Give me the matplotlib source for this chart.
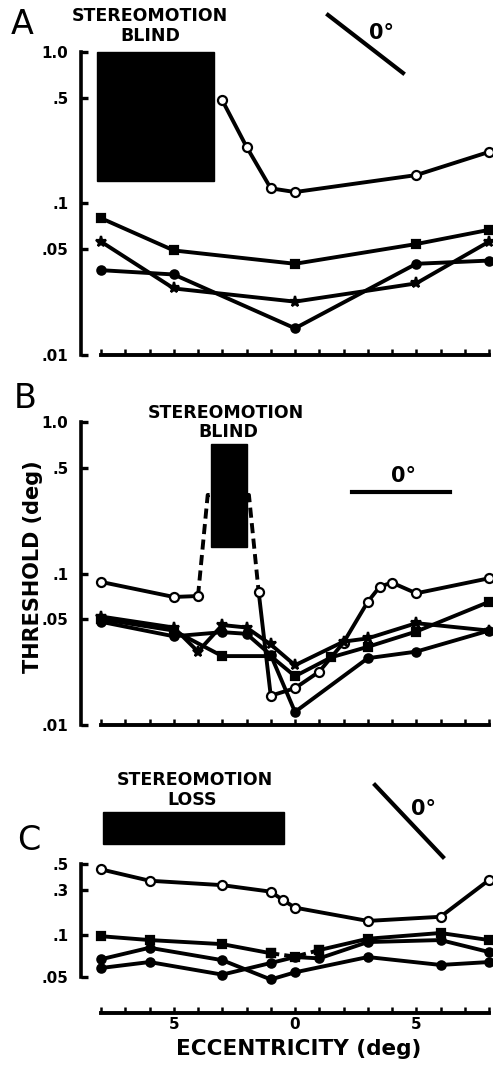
import numpy as np
import matplotlib
matplotlib.use("Agg")
import matplotlib.pyplot as plt
from matplotlib.patches import Rectangle
from matplotlib.lines import Line2D

# ---------------- data ----------------
# Panel A
a_open_x = [-3, -2, -1, 0, 5, 8]
a_open_y = [0.48, 0.237, 0.126, 0.119, 0.154, 0.219]
a_sq_x = [-8, -5, 0, 5, 8]
a_sq_y = [0.080, 0.049, 0.040, 0.054, 0.067]
a_dot_x = [-8, -5, 0, 5, 8]
a_dot_y = [0.0363, 0.034, 0.015, 0.040, 0.042]
a_star_x = [-8, -5, 0, 5, 8]
a_star_y = [0.056, 0.0275, 0.0225, 0.0297, 0.056]
a_blind = (-8.15, -3.35, 0.14, 1.0)

# Panel B
b_open_x = [-8, -5, -4, -1.5, -1, 0, 1, 2, 3, 3.5, 4, 5, 8]
b_open_y = [0.088, 0.070, 0.071, 0.076, 0.0156, 0.0175, 0.0225, 0.035, 0.065, 0.082, 0.087, 0.074, 0.093]
b_dash_x = [-4, -3.6, -1.9, -1.5]
b_dash_y = [0.071, 0.33, 0.33, 0.076]
b_sq_x = [-8, -5, -3, -1, 0, 1.5, 3, 5, 8]
b_sq_y = [0.050, 0.042, 0.0285, 0.0285, 0.021, 0.028, 0.0328, 0.0414, 0.065]
b_star_x = [-8, -5, -4, -3, -2, -1, 0, 2, 3, 5, 8]
b_star_y = [0.052, 0.044, 0.0305, 0.0457, 0.044, 0.034, 0.0248, 0.0355, 0.0373, 0.047, 0.042]
b_dot_x = [-8, -5, -3, -2, -1, 0, 3, 5, 8]
b_dot_y = [0.048, 0.0385, 0.041, 0.040, 0.029, 0.0122, 0.0276, 0.0305, 0.042]
b_blind = (-3.48, -2.0, 0.15, 0.716)

# Panel C
c_open_x = [-8, -6, -3, -1, -0.5, 0, 3, 6, 8]
c_open_y = [0.45, 0.36, 0.33, 0.288, 0.235, 0.195, 0.141, 0.156, 0.365]
c_sq_x = [-8, -6, -3, -1, 0, 1, 3, 6, 8]
c_sq_y = [0.098, 0.092, 0.086, 0.074, 0.070, 0.078, 0.094, 0.105, 0.092]
c_d1_x = [-8, -6, -3, -1, 0, 3, 6, 8]
c_d1_y = [0.067, 0.081, 0.066, 0.048, 0.054, 0.0695, 0.061, 0.064]
c_d2_x = [-8, -6, -3, -1, 0, 1, 3, 6, 8]
c_d2_y = [0.058, 0.064, 0.052, 0.063, 0.0695, 0.068, 0.089, 0.092, 0.0755]
c_loss = (-7.9, -0.47, 0.741, 1.39)

yticks_ab = [0.01, 0.05, 0.1, 0.5, 1.0]
yticklabels_ab = [".01", ".05", ".1", ".5", "1.0"]
yticks_c = [0.05, 0.1, 0.3, 0.5]
yticklabels_c = [".05", ".1", ".3", ".5"]
xtick_lab_pos = [-5, 0, 5]
xtick_lab_txt = ["5", "0", "5"]

# axis of panel C: piecewise log mapping (tick anchors of the original axis)
C_LOG = np.log10([0.05, 0.1, 0.3, 0.5])
C_POS = np.array([0.0, 42.0, 87.0, 113.0])

# ---------------- figure ----------------
W, H = 493, 1065
fig = plt.figure(figsize=(W / 100, H / 100), dpi=100)
plt.rcParams['font.family'] = ['DejaVu Sans']

LW = 2.8
K = 'black'


def fx(px):
    return px / W


def fy(py):
    return 1 - py / H


def c_forward(v):
    v = np.asarray(v, dtype=float)
    l = np.log10(np.clip(v, 1e-9, None))
    p = np.interp(l, C_LOG, C_POS)
    s0 = (C_POS[1] - C_POS[0]) / (C_LOG[1] - C_LOG[0])
    s1 = (C_POS[-1] - C_POS[-2]) / (C_LOG[-1] - C_LOG[-2])
    p = np.where(l < C_LOG[0], C_POS[0] + (l - C_LOG[0]) * s0, p)
    p = np.where(l > C_LOG[-1], C_POS[-1] + (l - C_LOG[-1]) * s1, p)
    return p


def c_inverse(p):
    p = np.asarray(p, dtype=float)
    l = np.interp(p, C_POS, C_LOG)
    s0 = (C_LOG[1] - C_LOG[0]) / (C_POS[1] - C_POS[0])
    s1 = (C_LOG[-1] - C_LOG[-2]) / (C_POS[-1] - C_POS[-2])
    l = np.where(p < C_POS[0], C_LOG[0] + (p - C_POS[0]) * s0, l)
    l = np.where(p > C_POS[-1], C_LOG[-1] + (p - C_POS[-1]) * s1, l)
    return 10 ** l


AX_LEFT = 81
X_M8, X_P8 = 101, 489
ppd = (X_P8 - X_M8) / 16.0
XL = (-8 - (X_M8 - AX_LEFT) / ppd, 8 + (W - X_P8) / ppd)


def make_axes(top, bottom):
    return fig.add_axes([fx(AX_LEFT), fy(bottom), fx(W - AX_LEFT), (bottom - top) / H])


def style(ax, ylo, yhi):
    ax.set_xlim(*XL)
    for s in ['top', 'right']:
        ax.spines[s].set_visible(False)
    ax.spines['left'].set_linewidth(2.6)
    ax.spines['bottom'].set_linewidth(2.8)
    ax.spines['left'].set_bounds(ylo, yhi)
    ax.spines['bottom'].set_bounds(-8, 8)
    ax.set_xticks(np.arange(-8, 9, 1))
    ax.tick_params(axis='x', direction='in', length=4, width=1.8, labelbottom=False)
    ax.tick_params(axis='y', direction='in', length=5, width=2.4, pad=9,
                   labelsize=11)
    ax.minorticks_off()
    for t in ax.get_yticklabels():
        t.set_fontweight('bold')
    ax.patch.set_alpha(0)


def series(ax, x, y, marker, ms, filled=True, ls='-'):
    ax.plot(x, y, ls=ls, color=K, lw=LW, marker=marker, ms=ms,
            mfc=K if filled else 'white', mec=K, mew=1.6, clip_on=False, zorder=3)


# ---------- Panel A ----------
axA = make_axes(52, 355)
axA.set_yscale('log')
axA.set_ylim(0.01, 1.0)
axA.set_yticks(yticks_ab)
axA.set_yticklabels(yticklabels_ab)
style(axA, 0.01, 1.0)
axA.add_patch(Rectangle((a_blind[0], a_blind[2]), a_blind[1] - a_blind[0],
                        a_blind[3] - a_blind[2], color=K, zorder=4, clip_on=False))
series(axA, a_open_x, a_open_y, 'o', 6.5, filled=False)
series(axA, a_sq_x, a_sq_y, 's', 6)
series(axA, a_dot_x, a_dot_y, 'o', 6)
series(axA, a_star_x, a_star_y, '*', 8)

# ---------- Panel B ----------
axB = make_axes(422, 725)
axB.set_yscale('log')
axB.set_ylim(0.01, 1.0)
axB.set_yticks(yticks_ab)
axB.set_yticklabels(yticklabels_ab)
style(axB, 0.01, 1.0)
axB.plot(b_dash_x, b_dash_y, ls=(0, (2.6, 1.4)), color=K, lw=LW, zorder=2, clip_on=False)
axB.add_patch(Rectangle((b_blind[0], b_blind[2]), b_blind[1] - b_blind[0],
                        b_blind[3] - b_blind[2], color=K, zorder=4, clip_on=False))
series(axB, b_open_x[:3], b_open_y[:3], 'o', 6.5, filled=False)
series(axB, b_open_x[3:], b_open_y[3:], 'o', 6.5, filled=False)
series(axB, b_sq_x, b_sq_y, 's', 6)
series(axB, b_star_x, b_star_y, '*', 8)
series(axB, b_dot_x, b_dot_y, 'o', 6)

# ---------- Panel C ----------
axC = make_axes(860, 1013)
axC.set_yscale('function', functions=(c_forward, c_inverse))
axC.set_ylim(float(c_inverse(-36.0)), float(c_inverse(117.0)))
axC.set_yticks(yticks_c)
axC.set_yticklabels(yticklabels_c)
style(axC, 0.05, 0.5)
axC.tick_params(axis='x', labelbottom=True, labelsize=11, pad=3)
axC.set_xticks(np.arange(-8, 9, 1))
axC.set_xticklabels([xtick_lab_txt[xtick_lab_pos.index(v)] if v in xtick_lab_pos else ''
                     for v in range(-8, 9)])
for t in axC.get_xticklabels() + axC.get_yticklabels():
    t.set_fontweight('bold')
axC.add_patch(Rectangle((c_loss[0], c_loss[2]), c_loss[1] - c_loss[0],
                        c_loss[3] - c_loss[2], color=K, zorder=4, clip_on=False))
series(axC, c_open_x, c_open_y, 'o', 6.5, filled=False)
series(axC, c_sq_x[:4], c_sq_y[:4], 's', 6)
series(axC, c_sq_x[3:6], c_sq_y[3:6], 's', 6, ls=(0, (2.2, 1.3)))
series(axC, c_sq_x[5:], c_sq_y[5:], 's', 6)
series(axC, c_d1_x, c_d1_y, 'o', 6)
series(axC, c_d2_x, c_d2_y, 'o', 6)

# ---------- annotations ----------
tkw = dict(fontweight='bold', ha='center', va='center', color=K)
fig.text(fx(22), fy(25), 'A', fontsize=24, ha='center', va='center')
fig.text(fx(25), fy(398), 'B', fontsize=24, ha='center', va='center')
fig.text(fx(29), fy(841), 'C', fontsize=24, ha='center', va='center')

fig.text(fx(150), fy(16), 'STEREOMOTION', fontsize=12.5, **tkw)
fig.text(fx(150), fy(36), 'BLIND', fontsize=12.5, **tkw)
fig.text(fx(226), fy(413), 'STEREOMOTION', fontsize=12.5, **tkw)
fig.text(fx(228), fy(432), 'BLIND', fontsize=12.5, **tkw)
fig.text(fx(195), fy(780), 'STEREOMOTION', fontsize=12.5, **tkw)
fig.text(fx(192), fy(800), 'LOSS', fontsize=12.5, **tkw)

# 0 deg orientation icons
fig.add_artist(Line2D([fx(328), fx(403)], [fy(15), fy(73)], color=K, lw=3.0))
fig.text(fx(381), fy(33), '0°', fontsize=15, **tkw)
fig.add_artist(Line2D([fx(352), fx(450)], [fy(492), fy(492)], color=K, lw=3.0))
fig.text(fx(404), fy(476), '0°', fontsize=15, **tkw)
fig.add_artist(Line2D([fx(375), fx(443)], [fy(785), fy(857)], color=K, lw=3.0))
fig.text(fx(424), fy(809), '0°', fontsize=15, **tkw)

fig.text(fx(33), fy(567), 'THRESHOLD (deg)', fontsize=15, rotation=90, **tkw)
fig.text(fx(299), fy(1049), 'ECCENTRICITY (deg)', fontsize=15.5, **tkw)

fig.savefig('out.png', dpi=100)
